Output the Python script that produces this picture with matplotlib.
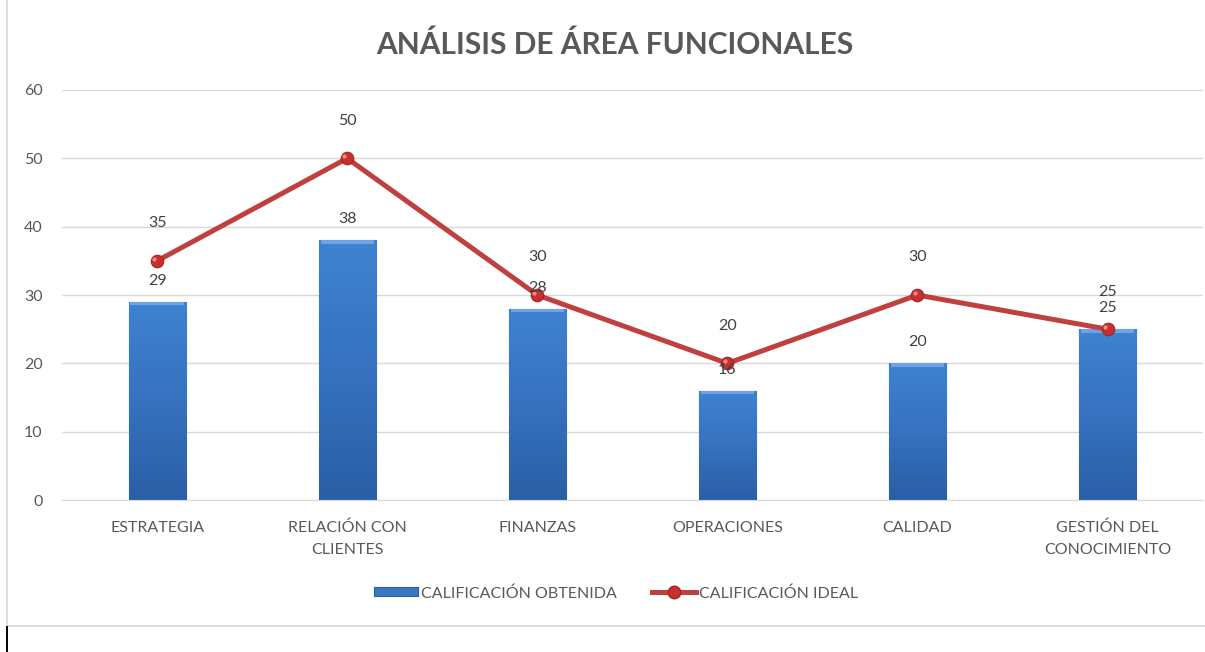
import matplotlib
matplotlib.use("Agg")
import matplotlib.pyplot as plt
import numpy as np
from matplotlib.lines import Line2D
from matplotlib.patches import Rectangle

plt.rcParams["font.family"] = ["Lato", "DejaVu Sans"]

categories = ["ESTRATEGIA", "RELACIÓN CON\nCLIENTES", "FINANZAS",
              "OPERACIONES", "CALIDAD", "GESTIÓN DEL\nCONOCIMIENTO"]
obtenida = [29, 38, 28, 16, 20, 25]
ideal = [35, 50, 30, 20, 30, 25]

GRAY = "#595959"
BLUE = "#3A78C6"
RED = "#C0403F"

fig = plt.figure(figsize=(12.05, 6.52), dpi=100)
ax = fig.add_axes([0.0515, 0.233, 0.9465, 0.629])

x = np.arange(len(categories))
bw = 0.3

# bars: dark at the bottom, lighter towards the top
cmap = matplotlib.colors.LinearSegmentedColormap.from_list(
    "b", ["#2A5FA6", "#3672BF", "#3F82D2"])
bars = ax.bar(x, obtenida, bw, color=BLUE, edgecolor="#2B5F9E",
              linewidth=0.8, zorder=2)
for b in bars:
    x0, y0 = b.get_x(), b.get_y()
    w, h = b.get_width(), b.get_height()
    img = np.vstack([np.linspace(0.0, 1.0, 64)] * 2).T
    im = ax.imshow(img, cmap=cmap, vmin=0, vmax=1, aspect="auto",
                   extent=(x0, x0 + w, y0, y0 + h), origin="lower",
                   zorder=2.1)
    im.set_clip_path(b)
    ax.add_patch(Rectangle((x0 + 0.01, y0 + h - 0.5), w - 0.02, 0.5,
                           color="#6FA3E6", lw=0, zorder=2.2))
    ax.text(x0 + w / 2, y0 + h + 3.1, f"{int(h)}", ha="center",
            va="center", fontsize=11.5, color="#404040", zorder=5)

ax.plot(x, ideal, color=RED, lw=3.6, zorder=3, solid_capstyle="round")
ax.plot(x, ideal, "o", ms=9, color="#C8302E", mec="#9E2624",
        mew=0.8, zorder=4)
ax.plot(x - 0.015, np.array(ideal) + 0.3, "o", ms=3,
        color="#F08A88", mew=0, zorder=4.5)
for xi, v in zip(x, ideal):
    ax.text(xi, v + 5.5, f"{v}", ha="center", va="center",
            fontsize=11.5, color="#404040", zorder=5)

ax.set_xlim(-0.5, len(categories) - 0.5)
ax.set_ylim(0, 60)
ax.set_yticks(range(0, 61, 10))
ax.yaxis.grid(True, color="#D9D9D9", lw=1)
ax.set_axisbelow(True)
for s in ["top", "right", "left"]:
    ax.spines[s].set_visible(False)
ax.spines["bottom"].set_color("#D9D9D9")
ax.tick_params(axis="both", length=0, colors=GRAY, labelsize=11.5)
ax.tick_params(axis="y", pad=14)
ax.tick_params(axis="x", pad=15)
ax.set_xticks(x)
ax.set_xticklabels(categories, linespacing=1.65)

fig.text(0.510, 0.932, "ANÁLISIS DE ÁREA FUNCIONALES", ha="center",
         va="center", fontsize=21.5, fontweight="bold", color=GRAY)

handles = [
    Rectangle((0, 0), 1, 1, fc=BLUE, ec="#2B5F9E", lw=0.8),
    Line2D([0], [0], color=RED, lw=3.6, marker="o", ms=9,
           mfc="#C8302E", mec="#9E2624"),
]
fig.legend(handles, ["CALIFICACIÓN OBTENIDA", "CALIFICACIÓN IDEAL"],
           loc="center", bbox_to_anchor=(0.511, 0.09), ncol=2,
           frameon=False, fontsize=11.5, labelcolor=GRAY,
           handlelength=2.8, handleheight=0.5, handletextpad=0.15,
           columnspacing=2.2)

# chart frame (left and bottom edges visible)
fig.add_artist(Line2D([0.006, 0.006], [0.04, 1.0], color="#D9D9D9",
                      lw=1.2, transform=fig.transFigure))
fig.add_artist(Line2D([0.006, 1.0], [0.04, 0.04], color="#D9D9D9",
                      lw=1.2, transform=fig.transFigure))
fig.add_artist(Line2D([0.006, 0.006], [0.0, 0.038], color="black",
                      lw=1.4, transform=fig.transFigure))

fig.savefig("out.png", dpi=100)
